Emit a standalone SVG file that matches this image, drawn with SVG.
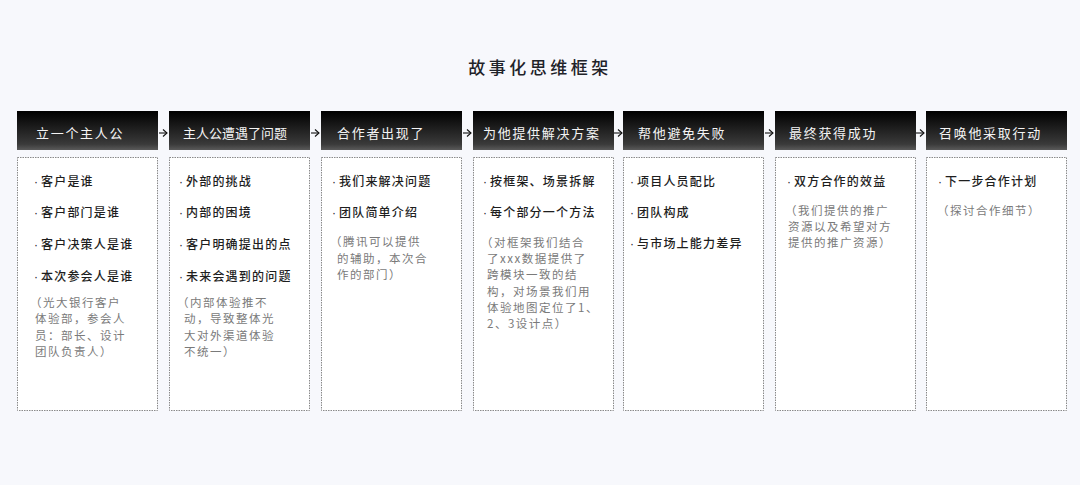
<svg xmlns="http://www.w3.org/2000/svg" width="1080" height="485" viewBox="0 0 1080 485">
<defs>
<linearGradient id="hg" x1="0" y1="0" x2="0" y2="1">
<stop offset="0" stop-color="#000000"/>
<stop offset="0.85" stop-color="#3a3a3a"/>
<stop offset="1" stop-color="#5a5a5a"/>
</linearGradient>
<marker id="ah" markerWidth="8" markerHeight="8" refX="6" refY="4" orient="auto" markerUnits="userSpaceOnUse">
<path d="M2,0.5 L6,4 L2,7.5" fill="none" stroke="#111" stroke-width="1.1"/>
</marker>
</defs>
<style>
text{font-family:"Noto Sans CJK SC","Noto Sans",sans-serif;}
.title{font-size:17px;fill:#1f2329;font-weight:500;letter-spacing:3.5px;}
.hd{fill:url(#hg);}
.ht{font-size:13px;fill:#f4f4f4;letter-spacing:1.7px;}
.bx{fill:#ffffff;stroke:#8a8a8a;stroke-width:1;stroke-dasharray:1.5 1;}
.b{font-size:12px;fill:#1e1e1e;letter-spacing:1.2px;font-weight:500;}
.d{font-family:"Liberation Sans",sans-serif;letter-spacing:3px;}
.n{font-size:11.5px;fill:#7a7a7a;letter-spacing:1.5px;}
.ar{stroke:#111;stroke-width:1.1;fill:none;}
</style>
<rect width="1080" height="485" fill="#f7f8fc"/>
<text class="title" x="540" y="74" text-anchor="middle">故事化思维框架</text>

<g id="connectors">
<line class="ar" x1="159" y1="133" x2="167" y2="133" marker-end="url(#ah)"/>
<line class="ar" x1="311" y1="133" x2="319" y2="133" marker-end="url(#ah)"/>
<line class="ar" x1="463" y1="133" x2="471" y2="133" marker-end="url(#ah)"/>
<line class="ar" x1="614" y1="133" x2="622" y2="133" marker-end="url(#ah)"/>
<line class="ar" x1="765" y1="133" x2="773" y2="133" marker-end="url(#ah)"/>
<line class="ar" x1="916" y1="133" x2="924" y2="133" marker-end="url(#ah)"/>
</g>

<g id="node1">
<rect class="hd" x="17" y="111" width="141" height="39"/>
<text class="ht" x="36" y="138">立一个主人公</text>
<rect class="bx" x="17.5" y="157.5" width="140" height="253"/>
<text class="b" x="34" y="185.5"><tspan class="d">·</tspan>客户是谁</text>
<text class="b" x="34" y="216.5"><tspan class="d">·</tspan>客户部门是谁</text>
<text class="b" x="34" y="249"><tspan class="d">·</tspan>客户决策人是谁</text>
<text class="b" x="34" y="281"><tspan class="d">·</tspan>本次参会人是谁</text>
<text class="n" x="30" y="306.5">（光大银行客户</text>
<text class="n" x="35" y="323">体验部，参会人</text>
<text class="n" x="35" y="339.5">员：部长、设计</text>
<text class="n" x="35" y="356">团队负责人）</text>
</g>

<g id="node2">
<rect class="hd" x="169" y="111" width="141" height="39"/>
<text class="ht" x="183" y="138" style="letter-spacing:0px">主人公遭遇了问题</text>
<rect class="bx" x="169.5" y="157.5" width="140" height="253"/>
<text class="b" x="179" y="185.5"><tspan class="d">·</tspan>外部的挑战</text>
<text class="b" x="179" y="216.5"><tspan class="d">·</tspan>内部的困境</text>
<text class="b" x="179" y="249"><tspan class="d">·</tspan>客户明确提出的点</text>
<text class="b" x="179" y="281"><tspan class="d">·</tspan>未来会遇到的问题</text>
<text class="n" x="177" y="306.5">（内部体验推不</text>
<text class="n" x="184" y="323">动，导致整体光</text>
<text class="n" x="184" y="339.5">大对外渠道体验</text>
<text class="n" x="184" y="356">不统一）</text>
</g>

<g id="node3">
<rect class="hd" x="321" y="111" width="141" height="39"/>
<text class="ht" x="337" y="138">合作者出现了</text>
<rect class="bx" x="321.5" y="157.5" width="140" height="253"/>
<text class="b" x="332" y="185.5"><tspan class="d">·</tspan>我们来解决问题</text>
<text class="b" x="332" y="216.5"><tspan class="d">·</tspan>团队简单介绍</text>
<text class="n" x="330" y="246">（腾讯可以提供</text>
<text class="n" x="337" y="262.5">的辅助，本次合</text>
<text class="n" x="337" y="279">作的部门）</text>
</g>

<g id="node4">
<rect class="hd" x="473" y="111" width="141" height="39"/>
<text class="ht" x="483" y="138">为他提供解决方案</text>
<rect class="bx" x="473.5" y="157.5" width="140" height="253"/>
<text class="b" x="483" y="185.5"><tspan class="d">·</tspan>按框架、场景拆解</text>
<text class="b" x="483" y="216.5"><tspan class="d">·</tspan>每个部分一个方法</text>
<text class="n" x="481" y="247">（对框架我们结合</text>
<text class="n" x="487" y="262.5">了xxx数据提供了</text>
<text class="n" x="487" y="279">跨模块一致的结</text>
<text class="n" x="487" y="295.5">构，对场景我们用</text>
<text class="n" x="487" y="311.5">体验地图定位了1、</text>
<text class="n" x="487" y="327.5">2、3设计点）</text>
</g>

<g id="node5">
<rect class="hd" x="623" y="111" width="141" height="39"/>
<text class="ht" x="638" y="138">帮他避免失败</text>
<rect class="bx" x="623.5" y="157.5" width="140" height="253"/>
<text class="b" x="630" y="185.5"><tspan class="d">·</tspan>项目人员配比</text>
<text class="b" x="630" y="216.5"><tspan class="d">·</tspan>团队构成</text>
<text class="b" x="630" y="247.5"><tspan class="d">·</tspan>与市场上能力差异</text>
</g>

<g id="node6">
<rect class="hd" x="775" y="111" width="141" height="39"/>
<text class="ht" x="789" y="138">最终获得成功</text>
<rect class="bx" x="775.5" y="157.5" width="140" height="253"/>
<text class="b" x="787" y="185.5"><tspan class="d">·</tspan>双方合作的效益</text>
<text class="n" x="785" y="214.5">（我们提供的推广</text>
<text class="n" x="788" y="230.5">资源以及希望对方</text>
<text class="n" x="788" y="247">提供的推广资源）</text>
</g>

<g id="node7">
<rect class="hd" x="926" y="111" width="141" height="39"/>
<text class="ht" x="939" y="138">召唤他采取行动</text>
<rect class="bx" x="926.5" y="157.5" width="140" height="253"/>
<text class="b" x="938" y="185.5"><tspan class="d">·</tspan>下一步合作计划</text>
<text class="n" x="937" y="214.5">（探讨合作细节）</text>
</g>
</svg>
